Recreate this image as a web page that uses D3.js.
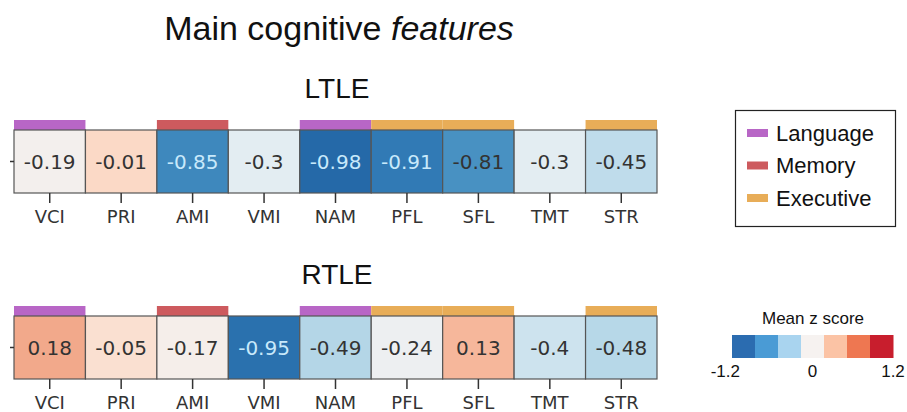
<!DOCTYPE html>
<html>
<head>
<meta charset="utf-8">
<script src="https://cdn.jsdelivr.net/npm/d3@7"></script>
<style>
  body { margin: 0; background: #fff; }
  svg { display: block; }
</style>
</head>
<body>
<script>
// Data
var tests = ["VCI", "PRI", "AMI", "VMI", "NAM", "PFL", "SFL", "TMT", "STR"];
var domains = ["Language", null, "Memory", null, "Language", "Executive", "Executive", null, "Executive"];
var ltle = [-0.19, -0.01, -0.85, -0.3, -0.98, -0.91, -0.81, -0.3, -0.45];
var rtle = [0.18, -0.05, -0.17, -0.95, -0.49, -0.24, 0.13, -0.4, -0.48];
var legendItems = ["Language", "Memory", "Executive"];
var cbarTicks = [-1.2, 0, 1.2];

var W = 907, H = 412;
var svg = d3.select("body").append("svg")
    .attr("width", W)
    .attr("height", H);

var domainColor = d3.scaleOrdinal()
    .domain(legendItems)
    .range(["#b866c6", "#cd5a5e", "#e8ad58"]);

// heatmap colour: RdBu reversed, centred a bit below zero like the figure
var color = d3.scaleSequential(t => d3.interpolateRdBu(1 - t))
    .domain([-1.2, 0.8]);

var x = d3.scaleBand()
    .domain(tests)
    .range([14, 657]);

// Title
var title = svg.append("text")
    .attr("x", 339)
    .attr("y", 40)
    .attr("text-anchor", "middle")
    .style("font-family", "'Liberation Sans', Arial, sans-serif")
    .style("font-size", "34px")
    .attr("fill", "#111");
title.append("tspan").text("Main cognitive ");
title.append("tspan").style("font-style", "italic").text("features");

function panel(name, values, top) {
    var g = svg.append("g");
    var cellH = 63;

    g.append("text")
        .attr("x", 337)
        .attr("y", top - 32)
        .attr("text-anchor", "middle")
        .style("font-family", "'Liberation Sans', Arial, sans-serif")
        .style("font-size", "28px")
        .attr("fill", "#111")
        .text(name);

    // domain bars on top
    g.selectAll(".dom")
        .data(tests.filter((t, i) => domains[i]))
        .enter()
        .append("rect")
        .attr("x", d => x(d))
        .attr("y", top - 10)
        .attr("width", x.bandwidth())
        .attr("height", 10)
        .attr("fill", d => domainColor(domains[tests.indexOf(d)]));

    var cells = g.selectAll(".cell")
        .data(values)
        .enter()
        .append("g");

    cells.append("rect")
        .attr("x", (d, i) => x(tests[i]))
        .attr("y", top)
        .attr("width", x.bandwidth())
        .attr("height", cellH)
        .attr("fill", d => color(d))
        .attr("stroke", "#555")
        .attr("stroke-width", 1.2);

    cells.append("text")
        .attr("x", (d, i) => x(tests[i]) + x.bandwidth() / 2)
        .attr("y", top + cellH / 2)
        .attr("dy", "0.36em")
        .attr("text-anchor", "middle")
        .style("font-family", "'DejaVu Sans', sans-serif")
        .style("font-size", "20px")
        .attr("fill", d => d3.lab(color(d)).l < 55 ? "#c8e9fb" : "#333")
        .text(d => d);

    var xAxis = d3.axisBottom(x).tickSize(10).tickPadding(7);
    var ax = g.append("g")
        .attr("transform", `translate(0,${top + cellH})`)
        .call(xAxis);
    ax.select(".domain").remove();
    ax.selectAll("line").attr("stroke", "#333").attr("stroke-width", 1.5);
    ax.selectAll("text")
        .style("font-family", "'DejaVu Sans', sans-serif")
        .style("font-size", "18px")
        .attr("fill", "#333");

    var y = d3.scaleBand().domain([""]).range([top, top + cellH]);
    var ay = g.append("g")
        .attr("transform", "translate(14,0)")
        .call(d3.axisLeft(y).tickSize(4).tickFormat(""));
    ay.select(".domain").remove();
    ay.selectAll("line").attr("stroke", "#333").attr("stroke-width", 1.5);
}

panel("LTLE", ltle, 130);
panel("RTLE", rtle, 316);

// Legend
var lg = svg.append("g");
lg.append("rect")
    .attr("x", 735.5)
    .attr("y", 110.5)
    .attr("width", 160)
    .attr("height", 116)
    .attr("fill", "#fff")
    .attr("stroke", "#222")
    .attr("stroke-width", 1.2);
var ly = d3.scalePoint().domain(legendItems).range([133, 198]);
var li = lg.selectAll(".li")
    .data(legendItems)
    .enter()
    .append("g")
    .attr("transform", d => `translate(0,${ly(d)})`);
li.append("rect")
    .attr("x", 747)
    .attr("y", -4)
    .attr("width", 21)
    .attr("height", 8)
    .attr("fill", d => domainColor(d));
li.append("text")
    .attr("x", 776)
    .attr("dy", "0.36em")
    .style("font-family", "'Liberation Sans', Arial, sans-serif")
    .style("font-size", "22px")
    .attr("fill", "#111")
    .text(d => d);

// Colour bar
var cbColors = ["#2b6cb0", "#4a9bd5", "#a9d4ef", "#f6f2f0", "#fbc3a5", "#ee7751", "#c81e2d"];
var cb = d3.scaleLinear().domain([-1.2, 1.2]).range([732, 893]);
var step = 2.4 / cbColors.length;
svg.append("g").selectAll("rect")
    .data(cbColors)
    .enter()
    .append("rect")
    .attr("x", (d, i) => cb(-1.2 + i * step))
    .attr("y", 335)
    .attr("width", (d, i) => cb(-1.2 + (i + 1) * step) - cb(-1.2 + i * step) + 0.5)
    .attr("height", 23)
    .attr("fill", d => d);

svg.append("text")
    .attr("x", 813)
    .attr("y", 324)
    .attr("text-anchor", "middle")
    .style("font-family", "'Liberation Sans', Arial, sans-serif")
    .style("font-size", "17px")
    .attr("fill", "#111")
    .text("Mean z score");

svg.append("g").selectAll("text")
    .data(cbarTicks)
    .enter()
    .append("text")
    .attr("x", d => cb(d))
    .attr("y", 377)
    .attr("text-anchor", d => d < 0 ? "end" : "middle")
    .attr("dx", d => d < 0 ? 8 : 0)
    .style("font-family", "'Liberation Sans', Arial, sans-serif")
    .style("font-size", "17px")
    .attr("fill", "#111")
    .text(d => d);
</script>
</body>
</html>
